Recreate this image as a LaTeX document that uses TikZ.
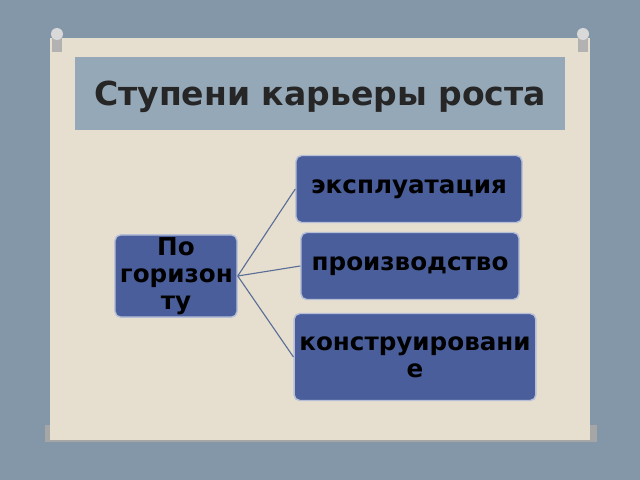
\documentclass[tikz,border=0pt]{standalone}
\usepackage{fontspec}
\setmainfont{DejaVu Sans}
\usetikzlibrary{positioning}

\definecolor{wallblue}{HTML}{8497A8}
\definecolor{paper}{HTML}{E6DFCF}
\definecolor{band}{HTML}{95A8B8}
\definecolor{boxblue}{HTML}{4A5E9C}
\definecolor{linkblue}{HTML}{5A6E96}

\tikzset{
    stepbox/.style={draw=boxblue!40, line width=1pt, fill=boxblue, rounded corners=4pt,
        align=center, font=\bfseries\fontsize{17.5}{19}\selectfont, text=black, inner sep=2pt},
    link/.style={draw=linkblue, line width=0.8pt}
}

\begin{document}
\begin{tikzpicture}[x=0.025cm, y=-0.025cm]
        \fill[wallblue] (0,0) rectangle (640,480);
        \fill[gray!70] (45,425) rectangle (597,442);
        \fill[paper] (50,38) rectangle (590,440);
        \fill[band] (75,57) rectangle (565,130);
        \node (title) at (320,97) {\bfseries\fontsize{23.5}{26}\selectfont\color{black!85} Ступени карьеры роста};

        % pins
        \foreach \px in {57,583} {
            \fill[gray!60] (\px-5,30) rectangle (\px+5,52);
            \fill[gray!30] (\px,34) circle (6);
        }

        \node[stepbox, minimum width=3.05cm, minimum height=1.7cm, text width=2.8cm] (horiz) at (176,276)
            {По\\горизон\\ту};
        \node[stepbox, minimum width=5.65cm, minimum height=1.675cm] (expl) at (409,189) {эксплуатация};
        \node[stepbox, minimum width=5.45cm, minimum height=1.675cm] (prod) at (410,266) {производство};
        \node[stepbox, minimum width=6cm, minimum height=2.175cm, text width=5.9cm] (constr) at (415,357)
            {конструировани\\е};

        \draw[link] (horiz.east) -- (expl.west);
        \draw[link] (horiz.east) -- (prod.west);
        \draw[link] (horiz.east) -- (constr.west);
\end{tikzpicture}
\end{document}
